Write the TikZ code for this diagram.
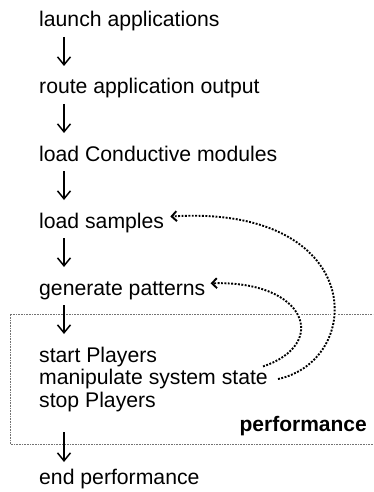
\documentclass[tikz,border=0pt]{standalone}
\usepackage{fontspec}
\setmainfont{Liberation Sans}
\usetikzlibrary{positioning,arrows.meta}

\tikzset{
  stage/.style={inner sep=0pt, anchor=base west, font=\fontsize{21.2pt}{22.5pt}\selectfont},
  flow/.style={-{Straight Barb[length=8pt,width=13pt]}, line width=1.5pt},
  feedback/.style={-{Straight Barb[length=5pt,width=10pt]}, line width=1.9pt,
    dash pattern=on 1.9pt off 1.5pt,
    preaction={draw=white, solid, line width=7pt, -}},
  region/.style={draw=black!55, line width=0.8pt, dash pattern=on 0.8pt off 0.8pt},
}

\begin{document}
\begin{tikzpicture}[x=1pt, y=-1pt]
  \path[use as bounding box, clip] (0,0) rectangle (373,492);

  % performance block
  \draw[region] (380,314) -| (10,444) -- (380,444);
  \node[stage, font=\bfseries\fontsize{21pt}{22.5pt}\selectfont, anchor=base east] (perf) at (367,431) {performance};

  \node[stage] (launch) at (39,27) {launch applications};
  \node[stage, below=67pt of launch.base west, anchor=base west] (route) {route application output};
  \node[stage, below=67pt of route.base west, anchor=base west] (modules) {load Conductive modules};
  \node[stage, below=67pt of modules.base west, anchor=base west] (samples) {load samples};
  \node[stage, below=67pt of samples.base west, anchor=base west] (patterns) {generate patterns};
  \node[stage, below=67pt of patterns.base west, anchor=base west] (start) {start Players};
  \node[stage, below=22.5pt of start.base west, anchor=base west] (manip) {manipulate system state};
  \node[stage, below=22.5pt of manip.base west, anchor=base west] (stop) {stop Players};
  \node[stage, below=77pt of stop.base west, anchor=base west] (finish) {end performance};

  \foreach \a/\b in {launch/route, route/modules, modules/samples, samples/patterns, patterns/start}
    \draw[flow] ([xshift=25pt,yshift=-10pt]\a.base west) -- ([xshift=25pt,yshift=28pt]\b.base west);
  \draw[flow] ([xshift=25pt,yshift=-25pt]stop.base west) -- ([xshift=25pt,yshift=22pt]finish.base west);

  % feedback into the set-up steps
  \draw[feedback] ([xshift=-5pt,yshift=2.5pt]manip.north east)
    .. controls +(66,-22) and +(97,-3) .. ([xshift=5pt,yshift=7pt]patterns.east);
  \draw[feedback] ([xshift=10pt]manip.east)
    .. controls +(88,-19) and +(196,-12) .. ([xshift=6pt,yshift=6pt]samples.east);
\end{tikzpicture}
\end{document}
